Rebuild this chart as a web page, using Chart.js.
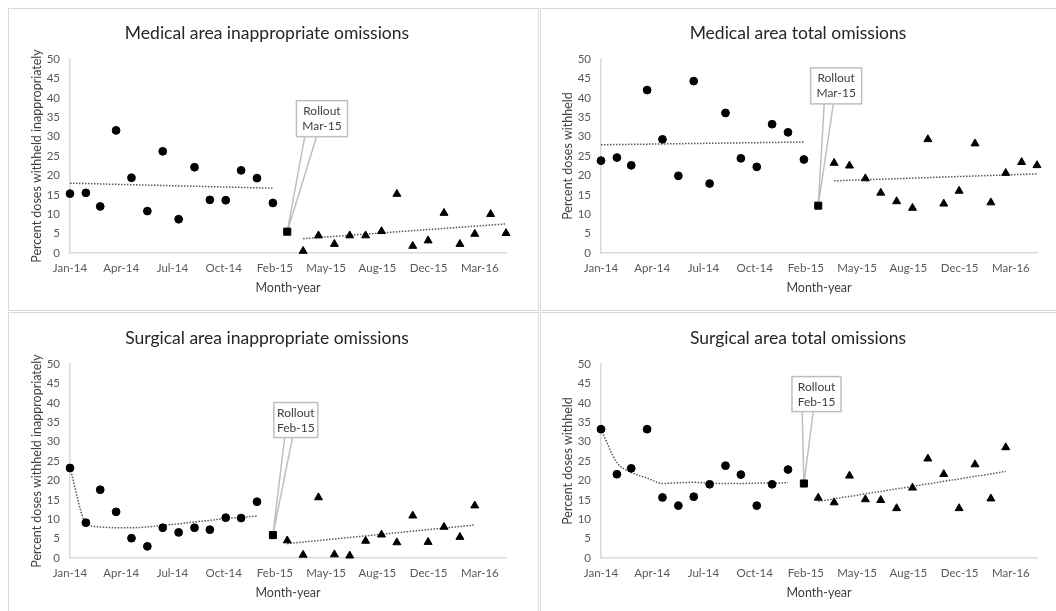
<!DOCTYPE html>
<html>
<head>
<meta charset="utf-8">
<script src="https://cdn.jsdelivr.net/npm/chart.js@4.4.1/dist/chart.umd.min.js"></script>
<style>
  body { margin: 0; background: #fff; width: 1056px; height: 611px; overflow: hidden; position: relative; }
  .panel { position: absolute; border: 1.5px solid #d9d9d9; box-sizing: border-box; }
  canvas { position: absolute; }
</style>
</head>
<body>
<div class="panel" style="left:8px;top:8px;width:531px;height:303px"></div>
<div class="panel" style="left:540px;top:8px;width:530px;height:303px"></div>
<div class="panel" style="left:8px;top:312px;width:531px;height:310px"></div>
<div class="panel" style="left:540px;top:312px;width:530px;height:310px"></div>
<canvas id="c1" width="527" height="296" style="left:10px;top:10px"></canvas>
<canvas id="c2" width="527" height="296" style="left:541px;top:10px"></canvas>
<canvas id="c3" width="527" height="296" style="left:10px;top:315px"></canvas>
<canvas id="c4" width="527" height="296" style="left:541px;top:315px"></canvas>
<script>
const months = [
    'Jan-14', 'Feb-14', 'Mar-14', 'Apr-14', 'May-14', 'Jun-14', 'Jul-14', 'Aug-14', 'Sep-14', 'Oct-14', 'Nov-14', 'Dec-14',
    'Jan-15', 'Feb-15', 'Mar-15', 'Apr-15', 'May-15', 'Jun-15', 'Jul-15', 'Aug-15', 'Sep-15', 'Oct-15', 'Nov-15', 'Dec-15',
    'Jan-16', 'Feb-16', 'Mar-16', 'Apr-16', 'May-16'
];
const axisEnd = 'May-16';

// Medical area inappropriate omissions
const medInappPre = [15.3, 15.5, 12.0, 31.6, 19.4, 10.8, 26.2, 8.7, 22.1, 13.7, 13.6, 21.3, 19.3, 12.9];
const medInappRollout = 5.5;
const medInappPost = [0.5, 4.5, 2.3, 4.5, 4.5, 5.6, 15.2, 1.8, 3.2, 10.3, 2.3, 4.9, 10.0, 5.1];
const medInappTrendPre = [['Jan-14', 18.0], ['Feb-15', 16.7]];
const medInappTrendPost = [['Apr-15', 3.7], ['May-16', 7.5]];

// Medical area total omissions
const medTotalPre = [23.8, 24.6, 22.6, 42.0, 29.3, 19.9, 44.3, 17.9, 36.1, 24.4, 22.2, 33.2, 31.1, 24.1];
const medTotalRollout = 12.2;
const medTotalPost = [23.2, 22.5, 19.2, 15.5, 13.3, 11.6, 29.3, 12.7, 16.0, 28.2, 13.0, 20.6, 23.4, 22.6];
const medTotalTrendPre = [['Jan-14', 27.9], ['Feb-15', 28.6]];
const medTotalTrendPost = [['Apr-15', 18.6], ['May-16', 20.4]];

// Surgical area inappropriate omissions
const surgInappPre = [23.2, 9.1, 17.6, 11.9, 5.1, 3.0, 7.8, 6.6, 7.8, 7.3, 10.4, 10.3, 14.5];
const surgInappRollout = 5.9;
const surgInappPost = [4.5, 0.8, 15.6, 0.9, 0.6, 4.4, 6.0, 4.0, 10.9, 4.1, 8.0, 5.4, 13.5];
const surgInappTrendPre = [['Jan-14', 23.2], ['Feb-14', 9.1], ['Mar-14', 8.0], ['Apr-14', 7.8], ['May-14', 7.8],
    ['Jun-14', 8.0], ['Jul-14', 8.4], ['Aug-14', 8.8], ['Sep-14', 9.3], ['Oct-14', 9.7], ['Nov-14', 10.2],
    ['Dec-14', 10.5], ['Jan-15', 10.8]];
const surgInappTrendPost = [['Mar-15', 3.7], ['Mar-16', 8.5]];

// Surgical area total omissions
const surgTotalPre = [33.2, 21.6, 23.1, 33.2, 15.6, 13.5, 15.8, 19.0, 23.8, 21.5, 13.5, 19.0, 22.8];
const surgTotalRollout = 19.2;
const surgTotalPost = [15.5, 14.3, 21.2, 15.1, 14.9, 12.8, 18.1, 25.6, 21.6, 12.8, 24.1, 15.3, 28.5];
const surgTotalTrendPre = [['Jan-14', 33.2], ['Feb-14', 24.6], ['Mar-14', 22.1], ['Apr-14', 20.6], ['May-14', 19.2],
    ['Jun-14', 19.4], ['Jul-14', 19.5], ['Aug-14', 19.3], ['Sep-14', 19.2], ['Oct-14', 19.2], ['Nov-14', 19.3],
    ['Dec-14', 19.3], ['Jan-15', 19.4]];
const surgTotalTrendPost = [['Mar-15', 14.6], ['Mar-16', 22.3]];

const MON = ['Jan', 'Feb', 'Mar', 'Apr', 'May', 'Jun', 'Jul', 'Aug', 'Sep', 'Oct', 'Nov', 'Dec'];
const START = Date.UTC(2014, 0, 1);

// month label -> days since Jan 2014 (the x axis is a date axis with 100-day steps)
function dayOf(label) {
    const [m, y] = label.split('-');
    return (Date.UTC(2000 + Number(y), MON.indexOf(m), 1) - START) / 864e5;
}
function tickLabel(v) {
    const d = new Date(START + v * 864e5);
    return MON[d.getUTCMonth()] + '-' + String(d.getUTCFullYear()).slice(2);
}

Chart.defaults.font.family = 'Lato';

const rolloutPlugin = {
    id: 'rollout',
    beforeDatasetsDraw(chart, args, o) {
        const {ctx, scales: {x, y}} = chart;
        const px = x.getPixelForValue(o.day), py = y.getPixelForValue(o.value);
        const cx = px + o.dx, cy = py + o.dy;
        const top = cy - o.h / 2, bottom = cy + o.h / 2;
        ctx.save();
        ctx.lineWidth = 1.5;
        ctx.strokeStyle = '#bfbfbf';
        ctx.fillStyle = '#fff';
        ctx.beginPath();
        ctx.moveTo(cx + o.wedge[0], bottom);
        ctx.lineTo(px, py);
        ctx.lineTo(cx + o.wedge[1], bottom);
        ctx.fill();
        ctx.stroke();
        ctx.fillRect(cx - o.w / 2, top, o.w, o.h);
        ctx.strokeRect(cx - o.w / 2, top, o.w, o.h);
        ctx.fillStyle = '#404040';
        ctx.font = '12px Lato';
        ctx.textAlign = 'center';
        ctx.textBaseline = 'middle';
        ctx.fillText('Rollout', cx, top + 10.5);
        ctx.fillText(o.label, cx, top + 25.5);
        ctx.restore();
    }
};

function makeChart(id, title, yTitle, pre, rollout, post, trendPre, trendPost, callout) {
    const prePts = pre.map((v, i) => ({x: dayOf(months[i]), y: v}));
    const rolloutMonth = months[pre.length];
    const postPts = post.map((v, i) => ({x: dayOf(months[pre.length + 1 + i]), y: v}));
    const trend = t => t.map(([m, v]) => ({x: dayOf(m), y: v}));
    const marker = (data, style, r) => ({
        data: data, pointStyle: style, pointRadius: r, pointHoverRadius: r,
        backgroundColor: '#000', borderColor: '#000', borderWidth: 1, showLine: false, clip: false
    });
    const line = (data) => ({
        data: data, showLine: true, pointRadius: 0, borderColor: '#595959', borderWidth: 1.5,
        borderDash: [1.5, 1.5], cubicInterpolationMode: 'monotone', fill: false, clip: false
    });
    return new Chart(document.getElementById(id), {
        type: 'scatter',
        data: {
            datasets: [
                marker(prePts, 'circle', 3.9),
                marker([{x: dayOf(rolloutMonth), y: rollout}], 'rect', 5),
                marker(postPts, 'triangle', 4.6),
                line(trend(trendPre)),
                line(trend(trendPost))
            ]
        },
        options: {
            responsive: false,
            animation: false,
            layout: {padding: {left: 18, right: 31, top: 0, bottom: 11}},
            plugins: {
                legend: {display: false},
                tooltip: {enabled: false},
                title: {
                    display: true, text: title, color: '#262626',
                    font: {size: 17.5, weight: 'normal'}, padding: {top: 13, bottom: 15}
                },
                rollout: Object.assign({day: dayOf(rolloutMonth), value: rollout, label: rolloutMonth}, callout)
            },
            scales: {
                x: {
                    type: 'linear', min: 0, max: dayOf(axisEnd),
                    afterFit: s => { s.height = 42; },
                    grid: {display: false, drawTicks: false},
                    border: {display: true, color: '#d9d9d9', width: 1.5},
                    ticks: {
                        stepSize: 100, includeBounds: false, maxRotation: 0, autoSkip: false,
                        color: '#595959', font: {size: 11.5}, padding: 8, callback: tickLabel
                    },
                    title: {display: true, text: 'Month-year', color: '#404040', font: {size: 12.5}, padding: 0}
                },
                y: {
                    min: 0, max: 50,
                    afterFit: s => { s.width = 42; },
                    grid: {display: false, drawTicks: false},
                    border: {display: true, color: '#d9d9d9', width: 1.5},
                    ticks: {stepSize: 5, color: '#595959', font: {size: 11.5}, padding: 10},
                    title: {display: true, text: yTitle, color: '#404040', font: {size: 12.5}, padding: {top: 1.5, bottom: 0}}
                }
            }
        },
        plugins: [rolloutPlugin]
    });
}

makeChart('c1', 'Medical area inappropriate omissions', 'Percent doses withheld inappropriately',
    medInappPre, medInappRollout, medInappPost, medInappTrendPre, medInappTrendPost,
    {dx: 34.7, dy: -113, w: 51, h: 36, wedge: [-17.2, -5.4]});
makeChart('c2', 'Medical area total omissions', 'Percent doses withheld',
    medTotalPre, medTotalRollout, medTotalPost, medTotalTrendPre, medTotalTrendPost,
    {dx: 17.9, dy: -119.8, w: 51, h: 36, wedge: [-11.9, -2.8]});
makeChart('c3', 'Surgical area inappropriate omissions', 'Percent doses withheld inappropriately',
    surgInappPre, surgInappRollout, surgInappPost, surgInappTrendPre, surgInappTrendPost,
    {dx: 22.9, dy: -115.1, w: 44, h: 35, wedge: [-11.1, -3.3]});
makeChart('c4', 'Surgical area total omissions', 'Percent doses withheld',
    surgTotalPre, surgTotalRollout, surgTotalPost, surgTotalTrendPre, surgTotalTrendPost,
    {dx: 12.6, dy: -89.4, w: 49, h: 35, wedge: [-14.3, -3.2]});
</script>
</body>
</html>
